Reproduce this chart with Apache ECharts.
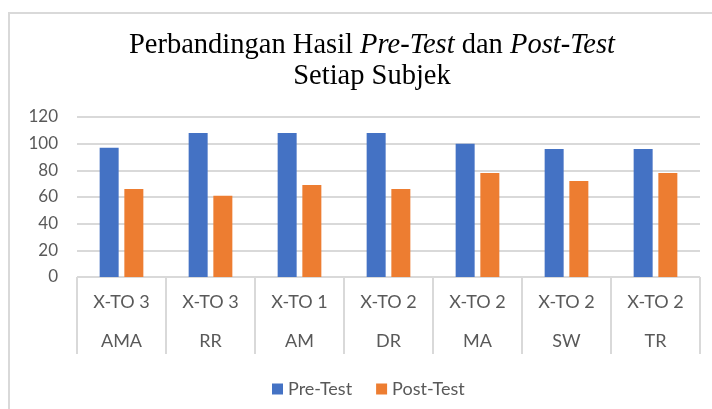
<!DOCTYPE html>
<html>
<head>
<meta charset="utf-8">
<script src="https://cdn.jsdelivr.net/npm/echarts@6/dist/echarts.min.js"></script>
<style>
  html, body { margin: 0; padding: 0; background: #ffffff; }
  #chart { width: 712px; height: 409px; }
</style>
</head>
<body>
<div id="chart"></div>
<script>
// data
const subjects = ['AMA', 'RR', 'AM', 'DR', 'MA', 'SW', 'TR']
const codes = ['X-TO 3', 'X-TO 3', 'X-TO 1', 'X-TO 2', 'X-TO 2', 'X-TO 2', 'X-TO 2']
const preTest = [97, 108, 108, 108, 100, 96, 96]
const postTest = [66, 61, 69, 66, 78, 72, 78]
const yTicks = [0, 20, 40, 60, 80, 100, 120]

const chart = echarts.init(document.getElementById('chart'))
const grey = '#595959'
const lineGrey = '#d9d9d9'
const labelFont = 'Lato, "Open Sans", sans-serif'
const serif = '"Liberation Serif", serif'

chart.setOption({
  backgroundColor: '#ffffff',
  animation: false,
  title: {
    left: 367,
    top: 25,
    textAlign: 'center',
    text: '{n|Perbandingan Hasil }{i|Pre-Test}{n| dan }{i|Post-Test}\n{n|Setiap Subjek}',
    textStyle: {
      fontWeight: 'normal',
      rich: {
        n: { fontFamily: serif, fontSize: 28.5, fontWeight: 'normal', color: '#000000', lineHeight: 31 },
        i: { fontFamily: serif, fontSize: 28.5, fontWeight: 'normal', fontStyle: 'italic', color: '#000000', lineHeight: 31 }
      }
    }
  },
  legend: {
    top: 375,
    left: 267,
    itemWidth: 11,
    itemHeight: 11,
    itemGap: 24,
    icon: 'rect',
    textStyle: { color: grey, fontSize: 18, fontFamily: labelFont },
    data: ['Pre-Test', 'Post-Test']
  },
  graphic: [{
    // outer chart border (cut off at right/bottom in the original)
    type: 'rect',
    shape: { x: 9, y: 13, width: 760, height: 460 },
    style: { fill: null, stroke: lineGrey, lineWidth: 2 },
    silent: true
  }],
  grid: {
    left: 77,
    right: 12,
    top: 117,
    bottom: 132
  },
  xAxis: {
    type: 'category',
    data: subjects,
    axisLine: { lineStyle: { color: lineGrey, width: 1 } },
    axisTick: { show: true, interval: 0, length: 77, lineStyle: { color: lineGrey, width: 2 } },
    axisLabel: {
      interval: 0,
      margin: 6,
      color: grey,
      fontSize: 18,
      fontFamily: labelFont,
      lineHeight: 39,
      formatter: (value, idx) => codes[idx] + '\n' + value
    }
  },
  yAxis: {
    type: 'value',
    min: yTicks[0],
    max: yTicks[yTicks.length - 1],
    interval: yTicks[1] - yTicks[0],
    axisLine: { show: false },
    axisTick: { show: false },
    axisLabel: { color: grey, fontSize: 17, fontFamily: labelFont, margin: 19 },
    splitLine: { lineStyle: { color: lineGrey, width: 2 } }
  },
  series: [
    {
      name: 'Pre-Test',
      type: 'bar',
      barWidth: 19,
      barGap: '30%',
      itemStyle: { color: '#4472C4' },
      data: preTest
    },
    {
      name: 'Post-Test',
      type: 'bar',
      barWidth: 19,
      itemStyle: { color: '#ED7D31' },
      data: postTest
    }
  ]
})
</script>
</body>
</html>
